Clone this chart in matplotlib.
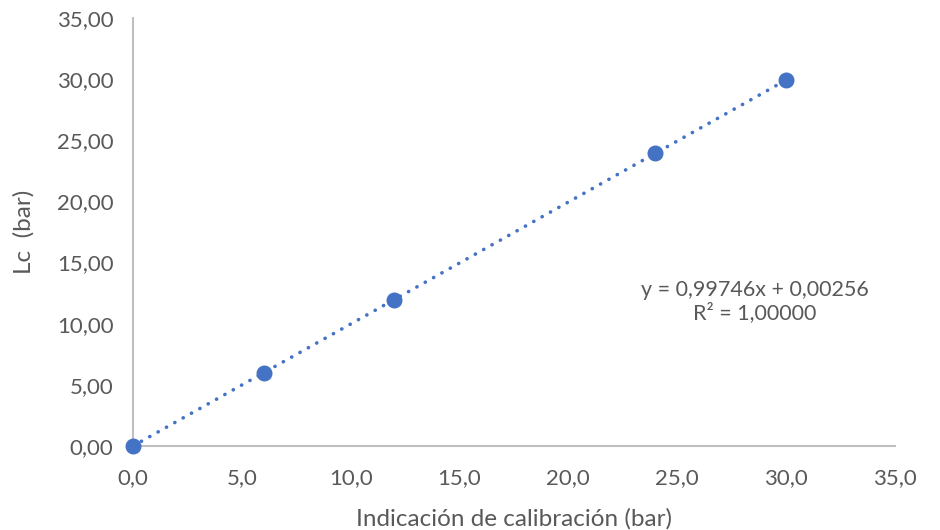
import numpy as np
import matplotlib.pyplot as plt
from matplotlib.ticker import FuncFormatter

plt.rcParams['font.family'] = ['Lato', 'DejaVu Sans']

# data
indicacion = [0.0, 6.0, 12.0, 24.0, 30.0]
lc = [0.003, 5.987, 11.972, 23.942, 29.926]
slope = 0.99746
intercept = 0.00256
r2 = 1.0

blue = '#4472C4'
gray = '#595959'

fig = plt.figure(figsize=(9.4, 5.3), dpi=100)
ax = fig.add_axes([0.1415, 0.1585, 0.8105, 0.8075])

xs = np.array([min(indicacion), max(indicacion)])
ax.plot(xs, slope * xs + intercept, linestyle=(0, (0.05, 2.6)), color=blue, lw=2.6,
        dash_capstyle='round', zorder=2)
ax.plot(indicacion, lc, 'o', color=blue, markersize=10.5, zorder=3, clip_on=False)

ax.set_xlim(0, 35)
ax.set_ylim(0, 35)
ax.set_xticks(np.arange(0, 36, 5))
ax.set_yticks(np.arange(0, 36, 5))
ax.xaxis.set_major_formatter(FuncFormatter(lambda v, p: f'{v:.1f}'.replace('.', ',')))
ax.yaxis.set_major_formatter(FuncFormatter(lambda v, p: f'{v:.2f}'.replace('.', ',')))
ax.tick_params(length=0, labelsize=16, labelcolor=gray)
ax.tick_params(axis='y', pad=14)
ax.tick_params(axis='x', pad=16)

for s in ['top', 'right']:
    ax.spines[s].set_visible(False)
for s in ['left', 'bottom']:
    ax.spines[s].set_color('#BFBFBF')
    ax.spines[s].set_linewidth(1.5)

ax.set_xlabel('Indicación de calibración (bar)', fontsize=17.5, color=gray, labelpad=14)
ax.set_ylabel('Lc  (bar)', fontsize=17.5, color=gray, labelpad=16)

eq = f'y = {slope:.5f}x + {intercept:.5f}'.replace('.', ',')
r2txt = f'R² = {r2:.5f}'.replace('.', ',')
ax.text(28.55, 11.8, eq + '\n' + r2txt, ha='center', va='center', fontsize=15.5,
        color=gray, linespacing=1.15)

fig.savefig('out.png', dpi=100)
